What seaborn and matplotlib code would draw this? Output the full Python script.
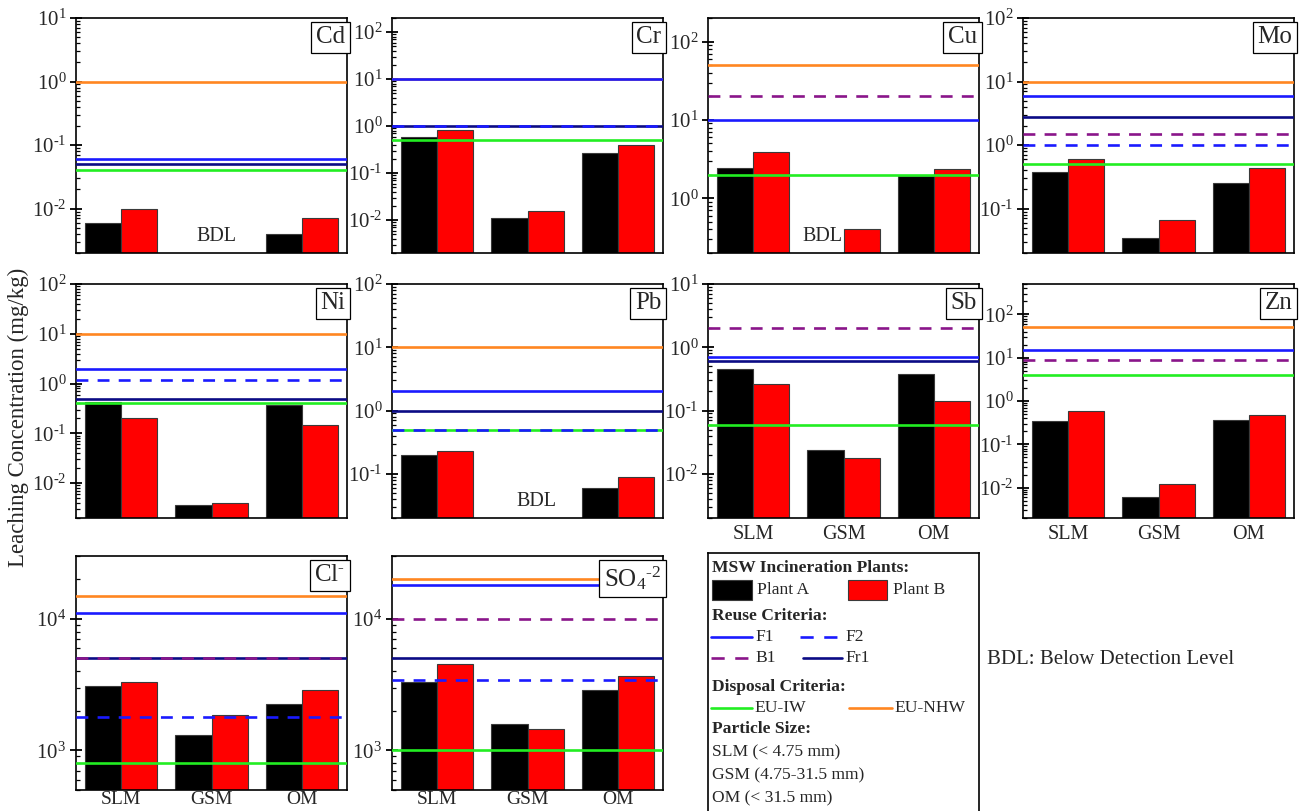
import numpy as np
import pandas as pd
import matplotlib
matplotlib.use("Agg")
import matplotlib.pyplot as plt
from matplotlib.ticker import LogLocator, NullFormatter, FuncFormatter
from matplotlib.patches import Rectangle
import seaborn as sns

sns.set_theme(style="ticks")
plt.rcParams["font.family"] = ["Liberation Serif", "DejaVu Serif"]
plt.rcParams["mathtext.fontset"] = "custom"
plt.rcParams["mathtext.rm"] = "Liberation Serif"
plt.rcParams["mathtext.it"] = "Liberation Serif:italic"
plt.rcParams["mathtext.bf"] = "Liberation Serif:bold"

# ---------------------------------------------------------------- data
sizes = ["SLM", "GSM", "OM"]
plants = ["Plant A", "Plant B"]
BDL = np.nan  # below detection level

# leaching concentrations (mg/kg) in the order SLM, GSM, OM
cd_a = [0.006, BDL, 0.004]
cd_b = [0.010, BDL, 0.007]
cr_a = [0.59, 0.011, 0.27]
cr_b = [0.83, 0.0155, 0.39]
cu_a = [2.45, BDL, 1.95]
cu_b = [3.9, 0.41, 2.35]
mo_a = [0.37, 0.035, 0.25]
mo_b = [0.61, 0.065, 0.43]
ni_a = [0.43, 0.0036, 0.38]
ni_b = [0.20, 0.0040, 0.15]
pb_a = [0.20, BDL, 0.060]
pb_b = [0.23, BDL, 0.089]
sb_a = [0.45, 0.0235, 0.38]
sb_b = [0.26, 0.0177, 0.14]
zn_a = [0.35, 0.006, 0.36]
zn_b = [0.59, 0.012, 0.48]
cl_a = [3100, 1300, 2250]
cl_b = [3300, 1850, 2900]
so4_a = [3300, 1600, 2900]
so4_b = [4500, 1450, 3700]

# reuse / disposal limit values (mg/kg)
cd_limits = {"EU-IW": 0.04, "EU-NHW": 1.0, "Fr1": 0.05, "F1": 0.06}
cr_limits = {"EU-IW": 0.5, "EU-NHW": 10, "Fr1": 1.0, "F1": 10, "F2": 1.0}
cu_limits = {"EU-IW": 2, "EU-NHW": 50, "F1": 10, "B1": 20}
mo_limits = {"EU-IW": 0.5, "EU-NHW": 10, "Fr1": 2.8, "F1": 6, "F2": 1.0, "B1": 1.5}
ni_limits = {"EU-IW": 0.4, "EU-NHW": 10, "Fr1": 0.5, "F1": 2, "F2": 1.2}
pb_limits = {"EU-IW": 0.5, "EU-NHW": 10, "Fr1": 1.0, "F1": 2, "F2": 0.5}
sb_limits = {"EU-IW": 0.06, "Fr1": 0.6, "F1": 0.7, "B1": 2}
zn_limits = {"EU-IW": 4, "EU-NHW": 50, "F1": 15, "B1": 9}
cl_limits = {"EU-IW": 800, "EU-NHW": 15000, "Fr1": 5000, "F1": 11000, "F2": 1800, "B1": 5000}
so4_limits = {"EU-IW": 1000, "EU-NHW": 20000, "Fr1": 5000, "F1": 18000, "F2": 3400, "B1": 10000}

# y-axis ranges
cd_range = (0.002, 10)
cr_range = (0.002, 200)
cu_range = (0.2, 200)
mo_range = (0.02, 100)
ni_range = (0.002, 100)
pb_range = (0.02, 100)
sb_range = (0.002, 10)
zn_range = (0.002, 500)
cl_range = (500, 30000)
so4_range = (500, 30000)

# ---------------------------------------------------------------- styles
bar_colors = {"Plant A": "#000000", "Plant B": "#ff0000"}
dash = (0, (4.5, 3.5))
limit_styles = {
    "EU-IW": dict(color="#22ee22", ls="-"),
    "EU-NHW": dict(color="#ff8621", ls="-"),
    "Fr1": dict(color="#0b0b85", ls="-"),
    "F1": dict(color="#1a1aff", ls="-"),
    "F2": dict(color="#1a1aff", ls=dash),
    "B1": dict(color="#8a158a", ls=dash),
}
draw_order = ["EU-IW", "EU-NHW", "Fr1", "F1", "F2", "B1"]


def decade_label(v, _pos):
    e = int(round(np.log10(v)))
    return r"10$^{\text{%d}}$" % e


W, H = 1299, 811
fig = plt.figure(figsize=(W / 100, H / 100), dpi=100)


def rect(left, top, width=271, height=235):
    return [left / W, (H - top - height) / H, width / W, height / H]


panels = [
    ("Cd", "Cd", cd_a, cd_b, cd_limits, cd_range, [(1.05, "BDL")], False, rect(76, 18)),
    ("Cr", "Cr", cr_a, cr_b, cr_limits, cr_range, [], False, rect(392, 18)),
    ("Cu", "Cu", cu_a, cu_b, cu_limits, cu_range, [(0.77, "BDL")], False, rect(708, 18)),
    ("Mo", "Mo", mo_a, mo_b, mo_limits, mo_range, [], False, rect(1023, 18)),
    ("Ni", "Ni", ni_a, ni_b, ni_limits, ni_range, [], False, rect(76, 284, height=234)),
    ("Pb", "Pb", pb_a, pb_b, pb_limits, pb_range, [(1.1, "BDL")], False, rect(392, 284, height=234)),
    ("Sb", "Sb", sb_a, sb_b, sb_limits, sb_range, [], True, rect(708, 284, height=234)),
    ("Zn", "Zn", zn_a, zn_b, zn_limits, zn_range, [], True, rect(1023, 284, height=234)),
    ("Cl", r"Cl$^{\text{-}}$", cl_a, cl_b, cl_limits, cl_range, [], True, rect(76, 556, height=234)),
    ("SO4", r"SO$_4$$^{\text{-2}}$", so4_a, so4_b, so4_limits, so4_range, [], True, rect(392, 556, height=234)),
]

for idx, (name, label, a_vals, b_vals, limits, yr, bdl_marks, show_x, pos) in enumerate(panels):
    ax = fig.add_axes(pos)
    df = pd.DataFrame({
        "size": sizes * 2,
        "plant": [plants[0]] * 3 + [plants[1]] * 3,
        "value": list(a_vals) + list(b_vals),
    }).dropna()
    sns.barplot(data=df, x="size", y="value", hue="plant", order=sizes,
                hue_order=plants, palette=bar_colors, saturation=1,
                errorbar=None, legend=False,
                edgecolor="#3a3a3a", linewidth=0.8, ax=ax, zorder=2)
    ax.set_yscale("log", nonpositive="clip")
    for key in draw_order:
        if key in limits:
            ax.axhline(limits[key], lw=1.9, zorder=5, **limit_styles[key])
    ax.set_ylim(*yr)
    ax.set_xlim(-0.5, 2.5)
    ax.set_xlabel("")
    ax.set_ylabel("")
    ax.yaxis.set_major_locator(LogLocator(base=10, numticks=20))
    ax.yaxis.set_major_formatter(FuncFormatter(decade_label))
    ax.yaxis.set_minor_locator(LogLocator(base=10, subs=np.arange(2, 10), numticks=20))
    ax.yaxis.set_minor_formatter(NullFormatter())
    ax.tick_params(axis="y", which="major", direction="inout", length=8, width=1.3,
                   labelsize=15, pad=3, color="black")
    ax.tick_params(axis="y", which="minor", direction="in", length=3, width=0.9, color="black")
    bottom_row = idx >= 8
    ax.tick_params(axis="x", length=0, labelsize=14 if bottom_row else 14.5,
                   pad=1 if bottom_row else 5, labelbottom=show_x)
    for sp in ax.spines.values():
        sp.set_visible(True)
        sp.set_linewidth(1.2)
        sp.set_color("black")
    ax.text(0.993, 0.965, label, transform=ax.transAxes, ha="right", va="top",
            fontsize=18, zorder=10,
            bbox=dict(boxstyle="square,pad=0.18", fc="white", ec="black", lw=0.9))
    for xpos, txt in bdl_marks:
        ax.text(xpos, 0.07, txt, transform=ax.get_xaxis_transform(),
                ha="center", va="center", fontsize=14.5, zorder=6)

fig.text(18 / W, 1 - 417 / H, "Leaching Concentration (mg/kg)", rotation=90,
         ha="center", va="center", fontsize=16.5)

# ---------------------------------------------------------------- key box
lax = fig.add_axes([708 / W, (H - 815) / H, 271 / W, 262 / H])
lax.set_xlim(0, 271)
lax.set_ylim(262, 0)
lax.set_xticks([])
lax.set_yticks([])
lax.set_facecolor("white")
for sp in lax.spines.values():
    sp.set_linewidth(1.2)
    sp.set_color("black")

fs = 12.6
lax.text(4, 15, "MSW Incineration Plants:", fontsize=fs, fontweight="bold", va="center")
lax.add_patch(Rectangle((4, 27), 40, 20, fc=bar_colors["Plant A"], ec="#3a3a3a", lw=0.8))
lax.text(49, 37, "Plant A", fontsize=fs, va="center")
lax.add_patch(Rectangle((140, 27), 39, 20, fc=bar_colors["Plant B"], ec="#3a3a3a", lw=0.8))
lax.text(185, 37, "Plant B", fontsize=fs, va="center")

lax.text(4, 63, "Reuse Criteria:", fontsize=fs, fontweight="bold", va="center")
key_rows = [
    ("F1", 3, 44, 84), ("F2", 92, 134, 84),
    ("B1", 3, 44, 105), ("Fr1", 95, 134, 105),
]
for key, x0, x1, yy in key_rows:
    st = limit_styles[key]
    lax.plot([x0, x1], [yy, yy], color=st["color"], lw=1.9,
             ls=(0, (5, 4)) if st["ls"] != "-" else "-")
    lax.text(x1 + 3, yy, key, fontsize=fs, va="center")

lax.text(4, 134, "Disposal Criteria:", fontsize=fs, fontweight="bold", va="center")
for key, x0, x1, yy in [("EU-IW", 3, 44, 155), ("EU-NHW", 141, 184, 155)]:
    lax.plot([x0, x1], [yy, yy], color=limit_styles[key]["color"], lw=1.9)
    lax.text(x1 + 2, yy, key, fontsize=fs, va="center")

lax.text(4, 176, "Particle Size:", fontsize=fs, fontweight="bold", va="center")
size_notes = ["SLM (< 4.75 mm)", "GSM (4.75-31.5 mm)", "OM (< 31.5 mm)"]
for i, note in enumerate(size_notes):
    lax.text(4, 199 + 23 * i, note, fontsize=fs, va="center")

fig.text(987 / W, 1 - 659 / H, "BDL: Below Detection Level", fontsize=15, va="center")

fig.savefig("out.png", dpi=100)
